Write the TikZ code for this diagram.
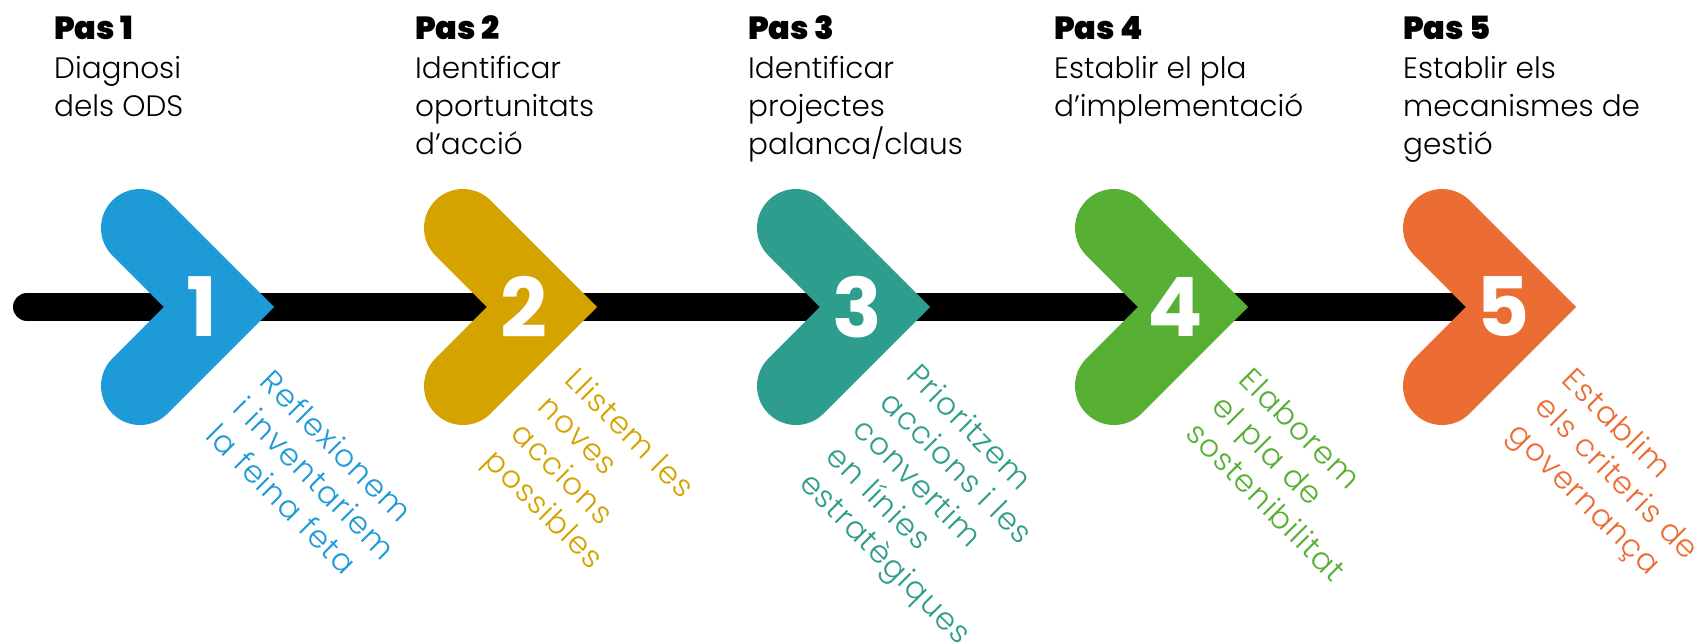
\documentclass[tikz,border=0pt]{standalone}
\usepackage{fontspec}
\IfFontExistsTF{Poppins Light}{\newfontfamily\popL{Poppins Light}\newfontfamily\popLs{Poppins Light}[LetterSpace=4]}{\newfontfamily\popL{Poppins}\newfontfamily\popLs{Poppins}[LetterSpace=4]}
\IfFontExistsTF{Poppins Black}{\newfontfamily\popK{Poppins Black}}{\newfontfamily\popK{Poppins}[FakeBold=3]}
\IfFontExistsTF{Poppins Bold}{\newfontfamily\popB{Poppins Bold}}{\newfontfamily\popB{Poppins}[FakeBold=2]}
\definecolor{cA}{HTML}{1E9AD6}
\definecolor{cB}{HTML}{D5A300}
\definecolor{cC}{HTML}{2E9D8E}
\definecolor{cD}{HTML}{57AF33}
\definecolor{cE}{HTML}{EC6D34}
\tikzset{
  chev/.style={line width=78pt, line cap=round, line join=miter, miter limit=10},
  num/.style={text=white, inner sep=0, font=\popB\fontsize{82}{82}\selectfont},
  pas/.style={anchor=base west, inner sep=0, font=\popK\fontsize{32}{38}\selectfont},
  body/.style={anchor=north west, align=left, inner sep=0, font=\popL\fontsize{29.5}{38}\selectfont},
  diag/.style={anchor=north west, align=left, inner sep=0, rotate=-45, font=\popLs\fontsize{31}{38}\selectfont},
}
\begin{document}
\begin{tikzpicture}[x=1pt,y=-1pt]
\useasboundingbox (0,0) rectangle (1701,643);
% timeline
\coordinate (ls) at (27,307);
\coordinate (le) at (1480,307);
\draw[line width=28pt, line cap=round] (ls) -- (le);
% chevron vertices
\coordinate (v1) at (219,307);
\coordinate (v2) at (542,307);
\coordinate (v3) at (875,307);
\coordinate (v4) at (1193,307);
\coordinate (v5) at (1521,307);
\foreach \v/\c in {v1/cA, v2/cB, v3/cC, v4/cD, v5/cE}{
  \draw[chev, draw=\c] ([shift={(-79,-79)}]\v) -- (\v) -- ([shift={(-79,79)}]\v);
}
% numbers
\node[num] (n1) at ([xshift=-17]v1) {1};
\node[num] (n2) at ([xshift=-18]v2) {2};
\node[num] (n3) at ([xshift=-18]v3) {3};
\node[num] (n4) at ([xshift=-18]v4) {4};
\node[num] (n5) at ([xshift=-18]v5) {5};
% headers
\node[pas] (p1) at (54,39) {Pas 1};
\node[pas] (p2) at (415,39) {Pas 2};
\node[pas] (p3) at (748,39) {Pas 3};
\node[pas] (p4) at (1054,39) {Pas 4};
\node[pas] (p5) at (1403,39) {Pas 5};
\node[body] (b1) at (54,56) {Diagnosi\\dels ODS};
\node[body] (b2) at (415,56) {Identificar\\oportunitats\\d’acció};
\node[body] (b3) at (748,56) {Identificar\\projectes\\palanca/claus};
\node[body] (b4) at (1054,56) {Establir el pla\\d’implementació};
\node[body] (b5) at (1403,56) {Establir els\\mecanismes de\\gestió};
% diagonal texts
\node[diag, text=cA] (d1) at (275,367) {Reflexionem\\i inventariem\\la feina feta};
\node[diag, text=cB] (d2) at (580,365) {Llistem les\\noves\\accions\\possibles};
\node[diag, text=cC] (d3) at (922,361) {Prioritzem\\accions i les\\convertim\\en línies\\estratègiques};
\node[diag, text=cD] (d4) at (1254,365) {Elaborem\\el pla de\\sostenibilitat};
\node[diag, text=cE] (d5) at (1577,365) {Establim\\els criteris de\\governança};
\end{tikzpicture}
\end{document}
